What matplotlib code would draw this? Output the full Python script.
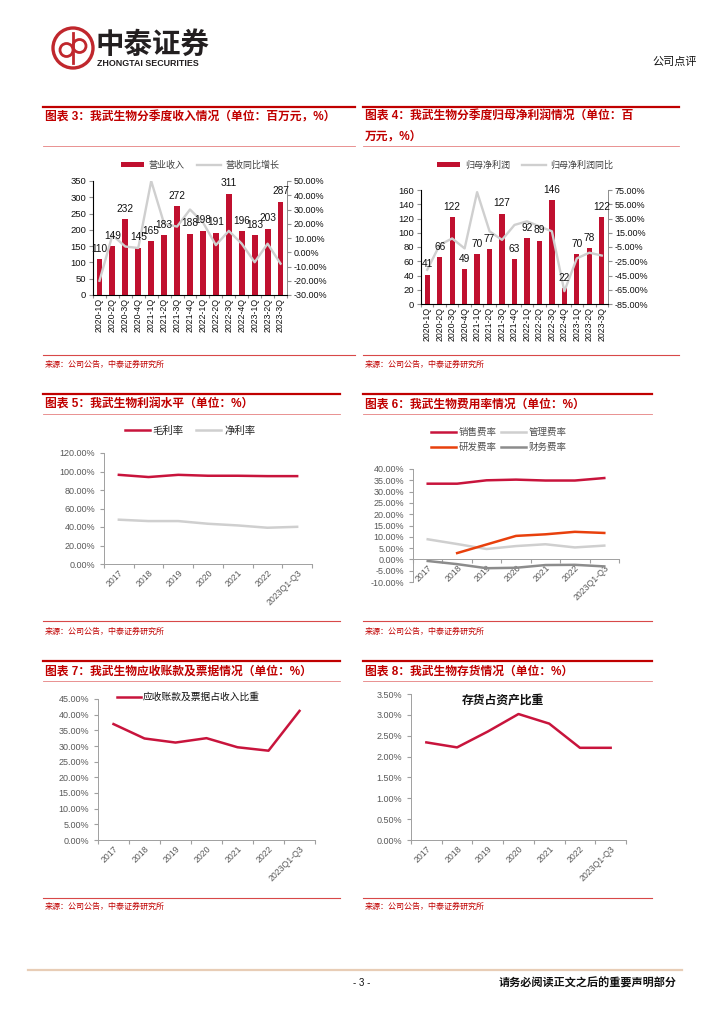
import numpy as np
import matplotlib
matplotlib.use('Agg')
import matplotlib.pyplot as plt
from matplotlib.patches import Circle
from matplotlib.ticker import FuncFormatter

plt.rcParams['font.family'] = ['Liberation Sans', 'Noto Sans CJK SC', 'DejaVu Sans']
plt.rcParams['axes.unicode_minus'] = False

# ---- data ----
quarters = ['2020-1Q', '2020-2Q', '2020-3Q', '2020-4Q', '2021-1Q', '2021-2Q', '2021-3Q', '2021-4Q',
            '2022-1Q', '2022-2Q', '2022-3Q', '2022-4Q', '2023-1Q', '2023-2Q', '2023-3Q']
revenue = [110, 149, 232, 145, 165, 183, 272, 188, 198, 191, 311, 196, 183, 203, 287]
revenue_yoy = [-20, 12, 4, 3, 50, 20, 18, 30, 21, 5, 15, 6, -7, 6, -8]
profit = [41, 66, 122, 49, 70, 77, 127, 63, 92, 89, 146, 22, 70, 78, 122]
profit_yoy = [-37, -2, 7, -7, 72, 17, 5, 26, 31, 24, 17, -67, -21, -13, -17]

years = ['2017', '2018', '2019', '2020', '2021', '2022', '2023Q1-Q3']
gross_margin = [96.4, 94.0, 96.4, 95.4, 95.4, 95.0, 95.0]
net_margin = [47.9, 46.4, 46.4, 43.5, 41.7, 39.2, 40.2]
sales_rate = [33.5, 33.5, 35.0, 35.3, 34.9, 34.9, 36.0]
admin_rate = [8.9, 6.8, 4.6, 5.9, 6.7, 5.3, 6.1]
rd_rate = [np.nan, 2.8, 6.6, 10.4, 11.1, 12.2, 11.7]
fin_rate = [-0.7, -2.1, -3.9, -3.7, -2.5, -2.4, -3.1]
receivable_ratio = [37.0, 32.4, 31.1, 32.5, 29.6, 28.5, 41.2]
inventory_ratio = [2.34, 2.22, 2.60, 3.02, 2.79, 2.21, 2.21]

RED = '#c0102f'
DARKRED = '#c00000'
GRAY = '#cfcfcf'
TICK = '#595959'
W, H = 724, 1024

fig = plt.figure(figsize=(7.24, 10.24), dpi=100)
bg = fig.add_axes([0, 0, 1, 1])
bg.set_xlim(0, W)
bg.set_ylim(H, 0)
bg.axis('off')


def px_axes(x0, y0, x1, y1):
    return fig.add_axes([x0 / W, 1 - y1 / H, (x1 - x0) / W, (y1 - y0) / H])


def section(x0, x1, y_top, titles, y_thin, y_bot, y_src):
    bg.plot([x0, x1], [y_top, y_top], color=DARKRED, lw=1.6)
    bg.plot([x0, x1], [y_thin, y_thin], color='#e58080', lw=0.6)
    bg.plot([x0, x1], [y_bot, y_bot], color='#d84848', lw=0.8)
    for t, yy in titles:
        bg.text(x0 + 2, yy, t, color=DARKRED, fontsize=8.5, fontweight='bold', va='center', ha='left')
    bg.text(x0 + 2, y_src, '来源：公司公告，中泰证券研究所', color=DARKRED, fontsize=5.8,
            va='center', ha='left')


def pct_fmt(dec):
    return FuncFormatter(lambda v, p: f'{v:.{dec}f}%')


def year_axis(ax):
    ax.set_xlim(-0.5, 6.5)
    ax.set_xticks(np.arange(-0.5, 7, 1))
    ax.set_xticklabels([])
    ax.set_xticks(range(7), minor=True)
    ax.set_xticklabels(years, minor=True, rotation=45, ha='right', rotation_mode='anchor',
                       fontsize=6.3, color=TICK)
    ax.tick_params(axis='x', which='minor', length=0, pad=3)
    ax.tick_params(axis='x', which='major', length=3, color='#a0a0a0', direction='out')
    ax.tick_params(axis='y', length=3, color='#a0a0a0', labelsize=6.5, labelcolor=TICK)
    for s in ['top', 'right']:
        ax.spines[s].set_visible(False)
    for s in ['left', 'bottom']:
        ax.spines[s].set_color('#a0a0a0')
        ax.spines[s].set_linewidth(0.7)


# ---- header ----
bg.add_patch(Circle((73, 48), 20, fill=False, ec='#c0272d', lw=2.4))
bg.add_patch(Circle((66.5, 50), 6.5, fill=False, ec='#c0272d', lw=2.0))
bg.add_patch(Circle((79.5, 46), 6.5, fill=False, ec='#c0272d', lw=2.0))
bg.plot([73, 73], [33, 63], color='#c0272d', lw=2.0)
bg.text(96, 45, '中泰证券', fontsize=20.5, fontweight='bold', color='#231f20', va='center', ha='left')
bg.text(97, 63.5, 'ZHONGTAI SECURITIES', fontsize=6.4, fontweight='bold', color='#231f20',
        va='center', ha='left')
bg.text(697, 62, '公司点评', fontsize=8, color='#111111', va='center', ha='right')

# ---- footer ----
bg.plot([28, 682], [970, 970], color='#e8cdb6', lw=1.6)
bg.text(362, 983, '- 3 -', fontsize=7, color='#111111', va='center', ha='center')
bg.text(677, 983, '请务必阅读正文之后的重要声明部分', fontsize=8, fontweight='bold', color='#111111',
        va='center', ha='right')

# ---- section frames ----
section(43, 355, 107, [('图表 3：我武生物分季度收入情况（单位：百万元，%）', 117)], 146, 355, 365)
section(363, 679, 107, [('图表 4：我武生物分季度归母净利润情况（单位：百', 117), ('万元，%）', 137)],
        146, 355, 365)
section(43, 340, 394, [('图表 5：我武生物利润水平（单位：%）', 405)], 414, 621, 632)
section(363, 652, 394, [('图表 6：我武生物费用率情况（单位：%）', 405)], 414, 621, 632)
section(43, 340, 661, [('图表 7：我武生物应收账款及票据情况（单位：%）', 672)], 681, 898, 907)
section(363, 652, 661, [('图表 8：我武生物存货情况（单位：%）', 672)], 681, 898, 907)


def bar_line_chart(box, bars, line, ylim, yticks, rlim, rticks, bar_label, line_label, legend_xy, width):
    ax = px_axes(*box)
    x = np.arange(len(quarters))
    ax.bar(x, bars, width=width, color=RED, label=bar_label, zorder=2)
    ax.set_xlim(-0.5, len(quarters) - 0.5)
    ax.set_ylim(*ylim)
    ax.set_yticks(yticks)
    ax.set_xticks(np.arange(-0.5, len(quarters), 1))
    ax.set_xticklabels([])
    ax.set_xticks(x, minor=True)
    ax.set_xticklabels(quarters, minor=True, rotation=90, fontsize=6.3, color='#111111')
    ax.tick_params(axis='x', which='minor', length=0, pad=2)
    ax.tick_params(axis='x', which='major', length=2, color='#909090')
    ax.tick_params(axis='y', length=3, color='#909090', labelsize=6.8, labelcolor='#111111', pad=2)
    ax.spines['top'].set_visible(False)
    for s in ['left', 'bottom', 'right']:
        ax.spines[s].set_color('#909090')
        ax.spines[s].set_linewidth(0.7)
    ax2 = ax.twinx()
    ax2.plot(x, line, color=GRAY, lw=1.7, label=line_label, zorder=3)
    ax2.set_ylim(*rlim)
    ax2.set_yticks(rticks)
    ax2.yaxis.set_major_formatter(pct_fmt(2))
    ax2.tick_params(axis='y', length=3, color='#909090', labelsize=6.5, labelcolor='#111111', pad=2)
    ax2.spines['top'].set_visible(False)
    ax2.spines['right'].set_color('#909090')
    ax2.spines['right'].set_linewidth(0.7)
    for xi, v in zip(x, bars):
        ax2.annotate(str(v), (xi, v), xycoords=ax.transData, xytext=(0, 7.5),
                     textcoords='offset points', ha='center', va='center', fontsize=7.3,
                     color='#111111', zorder=5)
    h1, l1 = ax.get_legend_handles_labels()
    h2, l2 = ax2.get_legend_handles_labels()
    ax2.legend(h1 + h2, l1 + l2, loc='center', bbox_to_anchor=(legend_xy[0] / W, 1 - legend_xy[1] / H),
               bbox_transform=fig.transFigure, ncol=2, frameon=False, fontsize=6.5,
               handlelength=2.6, handleheight=0.5, columnspacing=1.4, handletextpad=0.5,
               labelcolor='#404040')
    return ax


# ---- chart 3 ----
bar_line_chart((93, 181, 287, 295), revenue, revenue_yoy, (0, 350), range(0, 351, 50),
               (-30, 50), range(-30, 51, 10), '营业收入', '营收同比增长', (200, 165), 0.45)

# ---- chart 4 ----
bar_line_chart((421, 190, 608, 304), profit, profit_yoy, (0, 160), range(0, 161, 20),
               (-85, 75), range(-85, 76, 20), '归母净利润', '归母净利润同比', (525, 165), 0.42)

# ---- chart 5 ----
ax5 = px_axes(104, 453, 312, 564)
ax5.plot(range(7), gross_margin, color='#c8143c', lw=1.8, label='毛利率')
ax5.plot(range(7), net_margin, color=GRAY, lw=1.8, label='净利率')
ax5.set_ylim(0, 120)
ax5.set_yticks(range(0, 121, 20))
ax5.yaxis.set_major_formatter(pct_fmt(2))
year_axis(ax5)
ax5.legend(loc='center', bbox_to_anchor=(190 / W, 1 - 431 / H), bbox_transform=fig.transFigure,
           ncol=2, frameon=False, fontsize=7.5, handlelength=2.4, columnspacing=1.2,
           handletextpad=0.3, labelcolor='#222222')

# ---- chart 6 ----
ax6 = px_axes(413, 469, 619, 582)
ax6.spines['bottom'].set_position(('data', 0))
l_sales, = ax6.plot(range(7), sales_rate, color='#c8143c', lw=1.8, label='销售费率')
l_admin, = ax6.plot(range(7), admin_rate, color=GRAY, lw=1.8, label='管理费率')
l_rd, = ax6.plot(range(7), rd_rate, color='#e8400c', lw=1.8, label='研发费率')
l_fin, = ax6.plot(range(7), fin_rate, color='#8c8c8c', lw=1.8, label='财务费率')
ax6.set_ylim(-10, 40)
ax6.set_yticks(range(-10, 41, 5))
ax6.yaxis.set_major_formatter(pct_fmt(2))
year_axis(ax6)
ax6.legend([l_sales, l_rd, l_admin, l_fin], ['销售费率', '研发费率', '管理费率', '财务费率'],
           loc='center', bbox_to_anchor=(499 / W, 1 - 440 / H), bbox_transform=fig.transFigure,
           ncol=2, frameon=False, fontsize=6.8, handlelength=2.6, columnspacing=0.5,
           handletextpad=0.3, labelspacing=0.6, labelcolor='#505050')

# ---- chart 7 ----
ax7 = px_axes(98, 699, 315, 840)
ax7.plot(range(7), receivable_ratio, color='#c8143c', lw=1.8, label='应收账款及票据占收入比重')
ax7.set_ylim(0, 45)
ax7.set_yticks(range(0, 46, 5))
ax7.yaxis.set_major_formatter(pct_fmt(2))
year_axis(ax7)
ax7.legend(loc='center left', bbox_to_anchor=(117 / W, 1 - 697 / H), bbox_transform=fig.transFigure,
           frameon=False, fontsize=7, handlelength=2.5, handletextpad=0.15, borderaxespad=0,
           borderpad=0, labelcolor='#111111')

# ---- chart 8 ----
ax8 = px_axes(411, 694, 626, 840)
ax8.plot(range(7), inventory_ratio, color='#c8143c', lw=1.8)
ax8.set_ylim(0, 3.5)
ax8.set_yticks(np.arange(0, 3.51, 0.5))
ax8.yaxis.set_major_formatter(pct_fmt(2))
year_axis(ax8)
fig.text(503 / W, 1 - 701 / H, '存货占资产比重', fontsize=8.5, fontweight='bold', color='#111111',
         ha='center', va='center')

fig.savefig('out.png', dpi=100)
